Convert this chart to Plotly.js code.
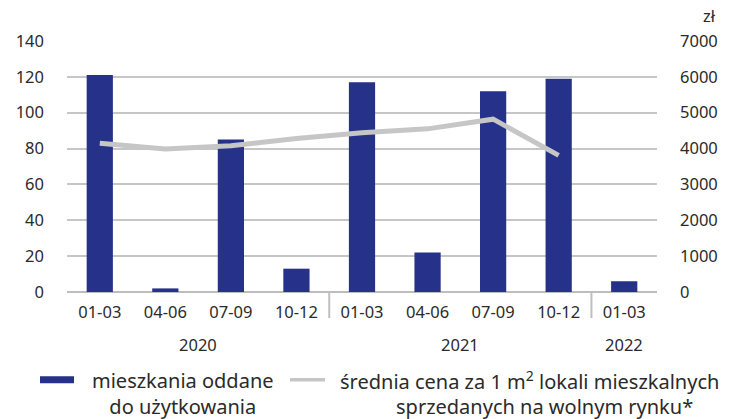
<!DOCTYPE html>
<html>
<head>
<meta charset="utf-8">
<script src="https://cdn.plot.ly/plotly-3.0.1.min.js"></script>
<style>
html,body{margin:0;padding:0;background:#fff;}
#chart{width:745px;height:419px;}
</style>
</head>
<body>
<div id="chart"></div>
<script>
// ---- data ----
const quarters = ["01-03","04-06","07-09","10-12","01-03","04-06","07-09","10-12","01-03"];
const years = ["2020","2021","2022"];
const yearCenters = [1.5, 5.5, 8];     // category index of each year label
const yearDividers = [3.5, 7.5];       // boundaries between years
const dwellings = [121, 2, 85, 13, 117, 22, 112, 119, 6];
const pricePerM2 = [4150, 3990, 4080, 4280, 4440, 4550, 4820, 3810, null];
const seriesNames = ["mieszkania oddane<br>do użytkowania",
  "średnia cena za 1 m<sup>2</sup> lokali mieszkalnych", "sprzedanych na wolnym rynku*"];
const leftTicks = [0,20,40,60,80,100,120,140];
const rightTicks = [0,1000,2000,3000,4000,5000,6000,7000];

// ---- layout geometry ----
const W = 745, H = 419;
const M = {l: 67, r: 88, t: 40.5, b: 126.5};
const PW = W - M.l - M.r, PH = H - M.t - M.b;
const px = x => (x - M.l) / PW;
const py = y => (H - M.b - y) / PH;

const FONT = "Noto Sans, Open Sans, sans-serif";
const TXT = "#2a2a2a";
const NAVY = "#26318a";
const GREY = "#c6c6c6";
const idx = quarters.map((_, i) => i);

const traces = [
  {type: "bar", x: idx, y: dwellings, marker: {color: NAVY}, width: 0.4,
   name: "mieszkania oddane do użytkowania", hoverinfo: "y", showlegend: false},
  {type: "scatter", mode: "lines", x: idx, y: pricePerM2, yaxis: "y2",
   line: {color: GREY, width: 5}, connectgaps: false,
   name: "średnia cena za 1 m² lokali mieszkalnych sprzedanych na wolnym rynku*",
   hoverinfo: "y", showlegend: false}
];

const annotations = [];
years.forEach((yr, i) => annotations.push({
  text: yr, x: yearCenters[i], xref: "x", y: 0, yref: "paper",
  yanchor: "middle", yshift: -52.5, showarrow: false,
  font: {family: FONT, size: 16.5, color: TXT}
}));
annotations.push({text: "zł", xref: "paper", yref: "paper", x: px(718), y: py(15),
  xanchor: "right", yanchor: "middle", showarrow: false,
  font: {family: FONT, size: 16.5, color: TXT}});
annotations.push({text: seriesNames[0], xref: "paper", yref: "paper", x: px(183), y: py(394),
  xanchor: "center", yanchor: "middle", align: "center", showarrow: false,
  font: {family: FONT, size: 20, color: TXT}});
annotations.push({text: seriesNames[1], xref: "paper", yref: "paper", x: px(529), y: py(381),
  xanchor: "center", yanchor: "middle", showarrow: false,
  font: {family: FONT, size: 20, color: TXT}});
annotations.push({text: seriesNames[2], xref: "paper", yref: "paper", x: px(544), y: py(407),
  xanchor: "center", yanchor: "middle", showarrow: false,
  font: {family: FONT, size: 20, color: TXT}});

const shapes = yearDividers.map(d => ({
  type: "line", xref: "x", yref: "paper", x0: d, x1: d,
  ysizemode: "pixel", yanchor: 0, y0: 0, y1: -26,
  line: {color: "#bfbfbf", width: 2}
}));
shapes.push({type: "rect", xref: "paper", yref: "paper", x0: px(40), x1: px(74),
  y0: py(384), y1: py(377), fillcolor: NAVY, line: {width: 0}});
shapes.push({type: "line", xref: "paper", yref: "paper", x0: px(290), x1: px(325),
  y0: py(380.5), y1: py(380.5), line: {color: GREY, width: 3.5}});

const layout = {
  width: W, height: H, margin: M,
  paper_bgcolor: "#fff", plot_bgcolor: "#fff",
  showlegend: false, bargap: 0.6,
  font: {family: FONT, size: 16.5, color: TXT},
  xaxis: {range: [-0.5, 8.5], tickmode: "array", tickvals: idx, ticktext: quarters,
    showgrid: false, zeroline: false, showline: false, ticks: "",
    ticklabelstandoff: 8, tickfont: {family: FONT, size: 16.5, color: TXT}, fixedrange: true},
  yaxis: {range: [0, 140], tickvals: leftTicks, showgrid: true, gridcolor: "#c6c6c6", gridwidth: 2,
    zeroline: true, zerolinecolor: "#bdbdbd", zerolinewidth: 2, showline: false, ticks: "",
    ticklabelstandoff: 22, tickfont: {family: FONT, size: 16.5, color: TXT}, fixedrange: true},
  yaxis2: {range: [0, 7000], tickvals: rightTicks, overlaying: "y", side: "right",
    showgrid: false, zeroline: false, showline: false, ticks: "",
    ticklabelstandoff: 22, tickfont: {family: FONT, size: 16.5, color: TXT}, fixedrange: true},
  annotations: annotations, shapes: shapes
};

Plotly.newPlot("chart", traces, layout, {displayModeBar: false, staticPlot: true});
</script>
</body>
</html>
